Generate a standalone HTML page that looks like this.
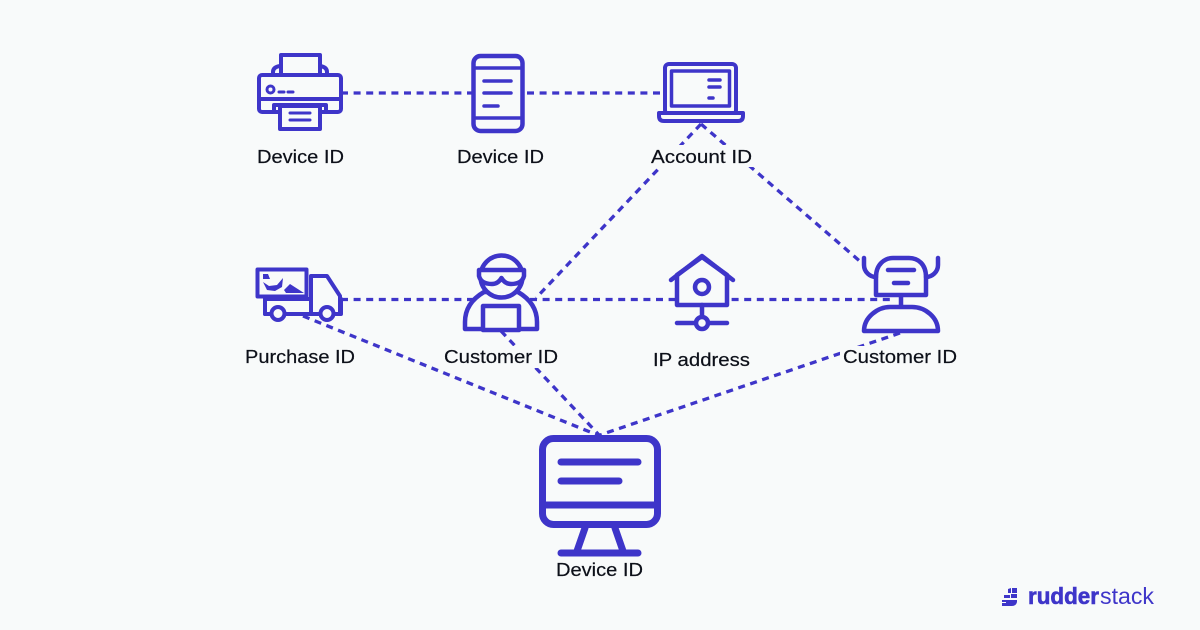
<!DOCTYPE html>
<html><head><meta charset="utf-8"><style>
html,body{margin:0;padding:0;background:#f8fafa}
svg{display:block}
text{font-family:"Liberation Sans",sans-serif;font-size:18.5px;fill:#0d1019;stroke:#0d1019;stroke-width:.2}
.d{stroke:#3e35c9;stroke-width:3.300;stroke-dasharray:7 5.600;fill:none}
.i{stroke:#3e35c9;stroke-width:4.500;fill:#f8fafa;stroke-linecap:round;stroke-linejoin:round}
.n{fill:none}
.m{fill:#f8fafa}
.s{fill:#3e35c9;stroke:none}
</style></head><body>
<svg width="1200" height="630" viewBox="0 0 1200 630" xmlns="http://www.w3.org/2000/svg">
<rect width="1200" height="630" fill="#f8fafa"/>
<!-- connectors -->
<path class="d" d="M341 93H472"/>
<path class="d" d="M527 93H664"/>
<path class="d" d="M341 299.500H893"/>
<path class="d" d="M701 124L536 298"/>
<path class="d" d="M701 124L862 263"/>
<path class="d" d="M303 316L600 436"/>
<path class="d" d="M501 331L600 436"/>
<path class="d" d="M900 333L600 435"/>
<!-- label masks -->
<rect class="m" x="648" y="145" width="107" height="22"/>
<rect class="m" x="441" y="346" width="120" height="22"/>
<rect class="m" x="840" y="346" width="120" height="22"/>
<!-- printer -->
<g class="i" style="stroke-width:4">
<path d="M273 74V72Q273 67 280 66M327 74V72Q327 67 320 66" class="n"/>
<rect x="281" y="55" width="39" height="22"/>
<rect x="259" y="75" width="82" height="37" rx="3"/>
<path class="n" d="M259 99H341M274 110V105H326V110"/>
<rect x="280" y="106" width="40" height="23"/>
<path class="n" d="M290 113H310M290 120H310" stroke-width="3"/>
<circle cx="270.500" cy="89.500" r="3.500" stroke-width="3"/>
<path class="n" d="M279 92H284M288 92H293" stroke-width="3"/>
</g>
<!-- phone -->
<g class="i">
<rect x="473.500" y="56" width="49" height="75" rx="7"/>
<path class="n" d="M474 68H522M474 118H522" stroke-width="3.500"/>
<path class="n" d="M484 81H511M484 93H511M484 106H498" stroke-width="3.500"/>
</g>
<!-- laptop -->
<g class="i" style="stroke-width:4">
<rect x="665" y="64" width="71" height="50" rx="4"/>
<rect x="671.500" y="71" width="58" height="35" stroke-width="3.500"/>
<path class="n" d="M709 80H720M709 87H720M709 98H713" stroke-width="3.500"/>
<path d="M659 113H743V116Q743 121 738 121H664Q659 121 659 116Z"/>
</g>
<!-- truck -->
<g class="i" style="stroke-width:4">
<path d="M265 299H341V314H265Z" class="n"/>
<path d="M311 276H327L340 296V314H311Z"/>
<path class="n" d="M265 299V314H272M285 314H320"/>
<circle cx="278" cy="313.500" r="6.500"/>
<circle cx="327" cy="313.500" r="6.500"/>
<rect x="257.500" y="269.500" width="49" height="27"/>
<path class="s" d="M263 274H268L270 279H263ZM263 282L269 286L277 285L283 278L282 287L275 291L267 290Z"/>
<path class="s" d="M284 290L290 284L304 293H286Z"/>
</g>
<!-- person -->
<g class="i">
<path d="M465 329V322C465 309 472 299 484 292H518C530 299 537 309 537 322V329Z"/>
<circle cx="501.500" cy="276.500" r="21"/>
<path d="M479 270H524V276Q522 284 511 284Q505 284 501.500 278Q498 284 492 284Q481 284 479 276Z"/>
<rect x="483" y="306" width="36" height="24"/>
</g>
<!-- house -->
<g class="i">
<path d="M677 305V275L702 257L727 275V305Z"/>
<path class="n" d="M671 280L702 256L733 280"/>
<circle cx="702" cy="287" r="7"/>
<path class="n" d="M702 305V317M677 323H727"/>
<circle cx="702" cy="323" r="6"/>
</g>
<!-- robot -->
<g class="i" style="fill:none">
<path d="M876 295V277C876 264 885 258 893 258H909C918 258 926 264 926 277V295Z"/>
<path d="M864 258V265C864 272 870 277 876 277M938 258V265C938 272 932 277 926 277"/>
<path d="M888 270H914M894 283H908M901 296V306"/>
<path d="M864 331C864 317 878 307 890 307H912C925 307 938 317 938 331Z"/>
</g>
<!-- monitor -->
<g class="i" style="stroke-width:7">
<path d="M585 528L577 551M615 528L623 551" class="n"/>
<rect x="542.500" y="438.500" width="115" height="86" rx="11"/>
<path class="n" d="M543 505H657"/>
<path class="n" d="M561 462H638M561 481H619M561 553H638"/>
</g>
<!-- labels -->
<text x="257" y="163" textLength="87" lengthAdjust="spacingAndGlyphs">Device ID</text>
<text x="457" y="163" textLength="87" lengthAdjust="spacingAndGlyphs">Device ID</text>
<text x="651" y="163" textLength="101" lengthAdjust="spacingAndGlyphs">Account ID</text>
<text x="245" y="363" textLength="110" lengthAdjust="spacingAndGlyphs">Purchase ID</text>
<text x="444" y="363" textLength="114" lengthAdjust="spacingAndGlyphs">Customer ID</text>
<text x="653" y="366" textLength="97" lengthAdjust="spacingAndGlyphs">IP address</text>
<text x="843" y="363" textLength="114" lengthAdjust="spacingAndGlyphs">Customer ID</text>
<text x="556" y="576" textLength="87" lengthAdjust="spacingAndGlyphs">Device ID</text>
<!-- logo -->
<path class="s" d="M1008 589L1011 588V593H1008ZM1012 588L1017 588V593H1012ZM1004 595H1010V598H1004ZM1011 594H1017V598H1011ZM1002 600H1017V602Q1016 606 1012 606H1002V603H1006V602H1002Z"/>
<text x="1028" y="604" style="font-size:23px;fill:#3e35c9;stroke:#3e35c9;stroke-width:.6;font-weight:bold" textLength="71" lengthAdjust="spacingAndGlyphs">rudder</text>
<text x="1100" y="604" style="font-size:23px;fill:#3e35c9;stroke:none" textLength="54" lengthAdjust="spacingAndGlyphs">stack</text>
</svg>
</body></html>
